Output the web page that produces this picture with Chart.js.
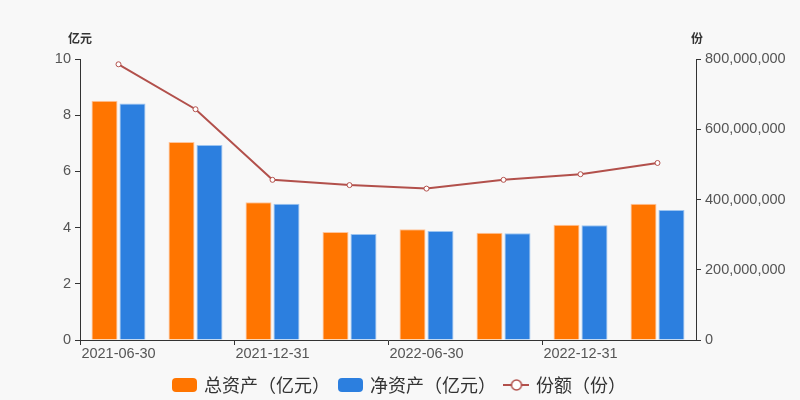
<!DOCTYPE html>
<html>
<head>
<meta charset="utf-8">
<script src="https://cdn.jsdelivr.net/npm/chart.js@4.4.0/dist/chart.umd.min.js"></script>
<style>
html,body{margin:0;padding:0;background:#f8f8f8;}
#wrap{width:800px;height:400px;}
</style>
</head>
<body>
<div id="wrap"><canvas id="c" width="800" height="400"></canvas></div>
<script>
const categories = ['2021-06-30','2021-09-30','2021-12-31','2022-03-31','2022-06-30','2022-09-30','2022-12-31','2023-03-31'];
const totalAssets = [8.51, 7.05, 4.90, 3.84, 3.94, 3.82, 4.10, 4.85];
const netAssets = [8.42, 6.94, 4.85, 3.77, 3.88, 3.80, 4.08, 4.63];
const shares = [785000000, 657000000, 456000000, 441000000, 431000000, 456000000, 472000000, 504000000];
const seriesNames = ['总资产（亿元）','净资产（亿元）','份额（份）'];
const leftTicks = [0,2,4,6,8,10];
const rightTicks = [0,200000000,400000000,600000000,800000000];

const FONT = '"Liberation Sans", Arial, sans-serif';
const CJK = '"Noto Sans CJK SC", "Noto Sans", sans-serif';

function boxImg(color){
  const c=document.createElement('canvas'); c.width=25; c.height=14;
  const x=c.getContext('2d'); x.fillStyle=color;
  x.beginPath(); x.roundRect(0,0,25,14,4); x.fill(); return c;
}
function lineImg(color){
  const c=document.createElement('canvas'); c.width=26; c.height=14;
  const x=c.getContext('2d'); x.strokeStyle=color; x.lineWidth=2;
  x.beginPath(); x.moveTo(0,7); x.lineTo(26,7); x.stroke();
  x.fillStyle='#fff'; x.beginPath(); x.arc(13,7,5,0,Math.PI*2); x.fill(); x.lineWidth=1.5; x.stroke();
  return c;
}
const ORANGE='#ff7500', BLUE='#2c7fdf', RED='#b2504b';
const imgs=[boxImg(ORANGE), boxImg(BLUE), lineImg(RED)];

const axisNames = {
  id:'axisNames',
  afterDraw(chart){
    const ctx=chart.ctx, a=chart.chartArea;
    ctx.save();
    ctx.fillStyle='#333'; ctx.font='bold 12px '+CJK;
    ctx.textAlign='center'; ctx.textBaseline='middle';
    ctx.fillText('亿元', a.left, 38);
    ctx.fillText('份', a.right+1, 38);
    ctx.restore();
  }
};

new Chart(document.getElementById('c'), {
  data:{
    labels:categories,
    datasets:[
      {type:'bar', label:seriesNames[0], data:totalAssets, backgroundColor:ORANGE, borderColor:'#ffc49a', borderWidth:1, yAxisID:'y', order:1,
       categoryPercentage:0.727, barPercentage:0.93},
      {type:'bar', label:seriesNames[1], data:netAssets, backgroundColor:BLUE, borderColor:'#9cc4f0', borderWidth:1, yAxisID:'y', order:1,
       categoryPercentage:0.727, barPercentage:0.93},
      {type:'line', label:seriesNames[2], data:shares, borderColor:RED, borderWidth:2, pointRadius:2.5, pointBorderWidth:1,
       pointBackgroundColor:'#fff', pointBorderColor:RED, yAxisID:'y1', order:0, tension:0}
    ]
  },
  options:{
    responsive:false, animation:false,
    layout:{padding:{top:59,bottom:-4,left:0,right:0}},
    plugins:{
      legend:{position:'bottom', labels:{usePointStyle:true, pointStyleWidth:21, boxHeight:14, padding:10,
        font:{family:CJK, size:18}, color:'#333',
        sort:(a,b)=>a.datasetIndex-b.datasetIndex,
        generateLabels(chart){
          return chart.data.datasets.map((d,i)=>({text:d.label, pointStyle:imgs[i], datasetIndex:i, fontColor:'#333', lineWidth:0, hidden:false}));
        }}},
      tooltip:{enabled:false}
    },
    scales:{
      x:{type:'category', offset:true,
        grid:{display:true, drawOnChartArea:false, offset:true, tickLength:5,
          tickColor:(c)=> (c.index%2===0)?'#333':'rgba(0,0,0,0)'},
        border:{display:true, color:'#333', width:1},
        ticks:{autoSkip:false, maxRotation:0, padding:0, color:'#555', font:{family:FONT, size:14.5},
          callback:function(v,i){return i%2===0?this.getLabelForValue(v):'';}},
        afterFit(s){s.height=26;}
      },
      y:{position:'left', min:0, max:10,
        afterBuildTicks(s){s.ticks=leftTicks.map(v=>({value:v}));},
        grid:{display:true, drawOnChartArea:false, tickLength:5, tickColor:'#333'},
        border:{display:true, color:'#333', width:1},
        ticks:{color:'#555', padding:4, font:{family:FONT, size:14.5}},
        afterFit(s){s.width=80;}
      },
      y1:{position:'right', min:0, max:800000000,
        afterBuildTicks(s){s.ticks=rightTicks.map(v=>({value:v}));},
        grid:{display:true, drawOnChartArea:false, tickLength:5, tickColor:'#333'},
        border:{display:true, color:'#333', width:1},
        ticks:{color:'#555', padding:4, font:{family:FONT, size:14.5},
          callback:(v)=>v.toLocaleString('en-US')},
        afterFit(s){s.width=104;}
      }
    }
  },
  plugins:[axisNames]
});
</script>
</body>
</html>
